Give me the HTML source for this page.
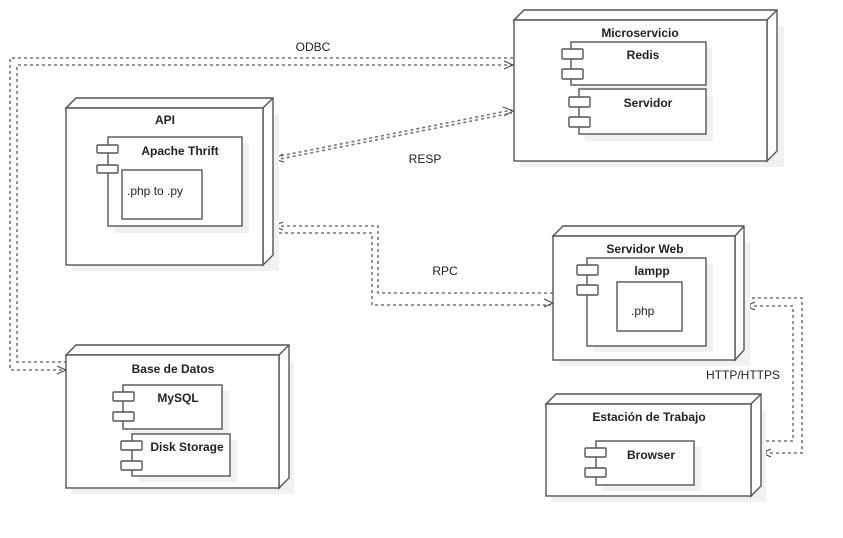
<!DOCTYPE html>
<html><head><meta charset="utf-8"><style>
html,body{margin:0;padding:0;background:#fff;}
svg{display:block;}
text{font-family:"Liberation Sans",Arial,sans-serif;font-size:12px;fill:#222;}
.b{font-weight:bold;}
</style></head><body>
<svg width="843" height="538" viewBox="0 0 843 538" xmlns="http://www.w3.org/2000/svg">
<g fill="none" stroke="#777" stroke-width="1.6" stroke-dasharray="3,3">
<polyline points="513,58 10,58 10,370 64,370"/>
<polyline points="513,65 17,65 17,362 66,362"/>
<line x1="275" y1="157" x2="512" y2="110"/>
<line x1="275" y1="160" x2="512" y2="113"/>
<polyline points="275,226 378,226 378,293 553,293"/>
<polyline points="273,233 372,233 372,305 551,305"/>
<polyline points="746,298 802,298 802,453 764,453"/>
<polyline points="748,306 793,306 793,441 762,441"/>
</g>
<g fill="none" stroke="#444" stroke-width="1">
<polyline points="504,61 513,65 504,69"/>
<polyline points="57,366 66,370 57,374"/>
<polyline points="283,154 274,159 284,162"/>
<polyline points="503,107 513,111 504,116"/>
<polyline points="283,222 274,226 283,230"/>
<polyline points="544,299 553,303 544,307"/>
<polyline points="755,302 746,306 755,310"/>
<polyline points="771,449 762,453 771,457"/>
</g>
<g stroke="#555" stroke-width="1.4" fill="#fff">
<rect x="72" y="114" width="207" height="157" fill="#f1f1f1" stroke="none"/>
<polygon points="66,108 76,98 273,98 273,255 263,265 263,108"/>
<rect x="66" y="108" width="197" height="157"/>
<line x1="263" y1="108" x2="273" y2="98"/>
<rect x="114" y="143" width="135" height="90" fill="#f1f1f1" stroke="none"/>
<rect x="108" y="137" width="134" height="89"/>
<rect x="97" y="145" width="21" height="8" rx="1"/>
<rect x="97" y="165" width="21" height="8" rx="1"/>
<rect x="122" y="170" width="80" height="49"/>
<rect x="520" y="26" width="264" height="141" fill="#f1f1f1" stroke="none"/>
<polygon points="514,20 524,10 777,10 777,151 767,161 767,20"/>
<rect x="514" y="20" width="253" height="141"/>
<line x1="767" y1="20" x2="777" y2="10"/>
<rect x="577" y="48" width="135" height="44" fill="#f1f1f1" stroke="none"/>
<rect x="571" y="42" width="135" height="43"/>
<rect x="562" y="49" width="21" height="10" rx="1"/>
<rect x="562" y="69" width="21" height="10" rx="1"/>
<rect x="585" y="96" width="128" height="45" fill="#f1f1f1" stroke="none"/>
<rect x="579" y="89" width="127" height="45"/>
<rect x="569" y="97" width="21" height="10" rx="1"/>
<rect x="569" y="117" width="21" height="10" rx="1"/>
<rect x="559" y="242" width="191" height="124" fill="#f1f1f1" stroke="none"/>
<polygon points="553,236 563,226 744,226 744,350 735,360 735,236"/>
<rect x="553" y="236" width="182" height="124"/>
<line x1="735" y1="236" x2="744" y2="226"/>
<rect x="593" y="264" width="120" height="88" fill="#f1f1f1" stroke="none"/>
<rect x="587" y="258" width="119" height="88"/>
<rect x="577" y="265" width="21" height="10" rx="1"/>
<rect x="577" y="285" width="21" height="10" rx="1"/>
<rect x="617" y="282" width="65" height="49"/>
<rect x="552" y="410" width="214" height="92" fill="#f1f1f1" stroke="none"/>
<polygon points="546,404 556,394 761,394 761,486 751,496 751,404"/>
<rect x="546" y="404" width="205" height="92"/>
<line x1="751" y1="404" x2="761" y2="394"/>
<rect x="602" y="447" width="99" height="44" fill="#f1f1f1" stroke="none"/>
<rect x="596" y="441" width="98" height="44"/>
<rect x="585" y="448" width="21" height="9" rx="1"/>
<rect x="585" y="468" width="21" height="9" rx="1"/>
<rect x="72" y="361" width="222" height="133" fill="#f1f1f1" stroke="none"/>
<polygon points="66,355 76,345 289,345 289,478 279,488 279,355"/>
<rect x="66" y="355" width="213" height="133"/>
<line x1="279" y1="355" x2="289" y2="345"/>
<rect x="129" y="391" width="100" height="44" fill="#f1f1f1" stroke="none"/>
<rect x="123" y="385" width="99" height="44"/>
<rect x="113" y="392" width="21" height="9" rx="1"/>
<rect x="113" y="412" width="21" height="9" rx="1"/>
<rect x="138" y="440" width="99" height="42" fill="#f1f1f1" stroke="none"/>
<rect x="132" y="434" width="98" height="42"/>
<rect x="121" y="441" width="21" height="9" rx="1"/>
<rect x="121" y="461" width="21" height="9" rx="1"/>
</g>
<g>
<text class="b" x="165" y="124" text-anchor="middle">API</text>
<text class="b" x="180" y="155" text-anchor="middle">Apache Thrift</text>
<text x="127" y="195">.php to .py</text>
<text class="b" x="640" y="37" text-anchor="middle">Microservicio</text>
<text class="b" x="643" y="59" text-anchor="middle">Redis</text>
<text class="b" x="648" y="107" text-anchor="middle">Servidor</text>
<text class="b" x="645" y="253" text-anchor="middle">Servidor Web</text>
<text class="b" x="652" y="275" text-anchor="middle">lampp</text>
<text x="631" y="315">.php</text>
<text class="b" x="649" y="421" text-anchor="middle">Estación de Trabajo</text>
<text class="b" x="651" y="459" text-anchor="middle">Browser</text>
<text class="b" x="173" y="373" text-anchor="middle">Base de Datos</text>
<text class="b" x="178" y="402" text-anchor="middle">MySQL</text>
<text class="b" x="187" y="451" text-anchor="middle">Disk Storage</text>
<text x="313" y="51" text-anchor="middle">ODBC</text>
<text x="425" y="163" text-anchor="middle">RESP</text>
<text x="445" y="275" text-anchor="middle">RPC</text>
<text x="743" y="379" text-anchor="middle">HTTP/HTTPS</text>
</g>
</svg>
</body></html>
